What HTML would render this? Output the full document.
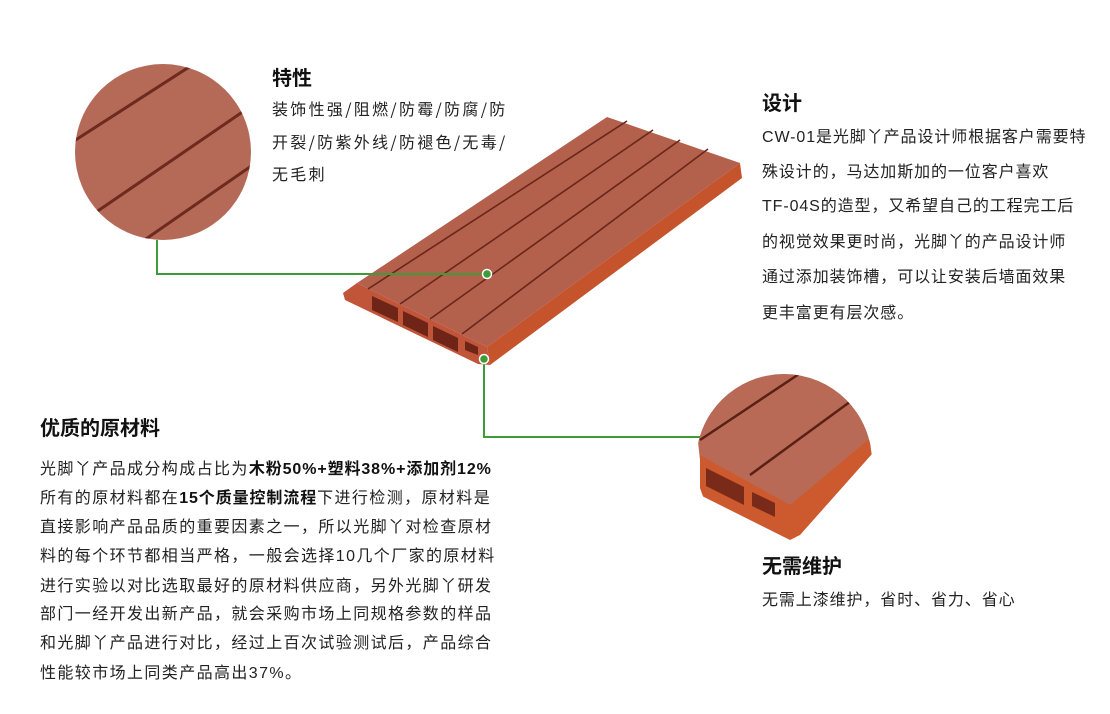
<!DOCTYPE html>
<html><head><meta charset="utf-8"><style>
body{margin:0;width:1110px;height:714px;background:#fff;position:relative;overflow:hidden;font-family:"Liberation Sans","Noto Sans CJK SC",sans-serif;color:#222}
.t{position:absolute;white-space:nowrap;font-size:16px}
.h{position:absolute;white-space:nowrap;font-size:20px;font-weight:bold;color:#111}
.l{letter-spacing:1.4px}
.r{letter-spacing:0.9px}
.s{font-family:"Noto Sans CJK SC",sans-serif;letter-spacing:2.3px}
b{font-weight:bold;color:#111}
.l b{letter-spacing:0.9px}
</style></head><body>
<svg width="1110" height="714" style="position:absolute;left:0;top:0">
<defs>
<clipPath id="c1"><circle cx="163" cy="152" r="88"/></clipPath>
<clipPath id="c2"><circle cx="784" cy="462" r="88"/></clipPath>
</defs>
<g clip-path="url(#c1)">
<rect x="70" y="60" width="190" height="190" fill="#b56a58"/>
<g stroke="#6e2a1e" stroke-width="3">
<line x1="60" y1="150" x2="200" y2="60"/>
<line x1="70" y1="230" x2="260" y2="100"/>
<line x1="130" y1="250" x2="260" y2="160"/>
</g>
</g>
<g clip-path="url(#c2)">
<polygon points="690,370 880,370 880,440 790,510 700,460" fill="#b86a56"/>
<polygon points="700,455 790,505 880,430 880,445 800,535 790,540 700,495" fill="#cd5a2e"/>
<polygon points="706,468 744,487 744,505 706,486" fill="#7a2a18"/>
<polygon points="752,492 775,503 775,517 752,506" fill="#7a2a18"/>
<g stroke="#5a2015" stroke-width="2.5">
<line x1="700" y1="440" x2="805" y2="370"/>
<line x1="750" y1="475" x2="862" y2="393"/>
</g>
</g>
<polygon points="357,283 607,117 740,163 487,347" fill="#b3604c"/>
<polygon points="740,163 742,178 490,365 487,347" fill="#c5532c"/>
<polygon points="343,293 357,283 487,347 490,365 478,364 345,300" fill="#c0553a"/>
<g fill="#6e2416">
<polygon points="372,296 398,308 398,322 372,310"/>
<polygon points="403,311 428,323 428,337 403,325"/>
<polygon points="433,326 458,338 458,352 433,340"/>
<polygon points="465,341 478,347 478,355 465,350"/>
</g>
<g stroke="#6a2619" stroke-width="1.6">
<line x1="627" y1="121" x2="368" y2="289"/>
<line x1="653" y1="130" x2="400" y2="304"/>
<line x1="680" y1="140" x2="430" y2="319"/>
<line x1="708" y1="149" x2="462" y2="334"/>
</g>
<g stroke="#3f9a3a" stroke-width="2" fill="none">
<polyline points="157,240 157,274 487,274"/>
<polyline points="484,358 484,437 700,437"/>
</g>
<circle cx="487" cy="274" r="4.5" fill="#3f9a3a" stroke="#fff" stroke-width="1.5"/>
<circle cx="484" cy="359" r="4.5" fill="#3f9a3a" stroke="#fff" stroke-width="1.5"/>
</svg>

<div class="h" style="left:272px;top:62px">特性</div>
<div class="t s" style="left:272px;top:96px">装饰性强/阻燃/防霉/防腐/防</div>
<div class="t s" style="left:272px;top:129px">开裂/防紫外线/防褪色/无毒/</div>
<div class="t s" style="left:272px;top:161px">无毛刺</div>

<div class="h" style="left:762px;top:87px">设计</div>
<div class="t r" style="left:762px;top:123px">CW-01是光脚丫产品设计师根据客户需要特</div>
<div class="t r" style="left:762px;top:158px">殊设计的，马达加斯加的一位客户喜欢</div>
<div class="t r" style="left:762px;top:192px">TF-04S的造型，又希望自己的工程完工后</div>
<div class="t r" style="left:762px;top:228px">的视觉效果更时尚，光脚丫的产品设计师</div>
<div class="t r" style="left:762px;top:263px">通过添加装饰槽，可以让安装后墙面效果</div>
<div class="t r" style="left:762px;top:299px">更丰富更有层次感。</div>

<div class="h" style="left:40px;top:412px">优质的原材料</div>
<div class="t l" style="left:40px;top:455px">光脚丫产品成分构成占比为<b>木粉50%+塑料38%+添加剂12%</b></div>
<div class="t l" style="left:40px;top:484px">所有的原材料都在<b>15个质量控制流程</b>下进行检测，原材料是</div>
<div class="t l" style="left:40px;top:513px">直接影响产品品质的重要因素之一，所以光脚丫对检查原材</div>
<div class="t l" style="left:40px;top:542px">料的每个环节都相当严格，一般会选择10几个厂家的原材料</div>
<div class="t l" style="left:40px;top:572px">进行实验以对比选取最好的原材料供应商，另外光脚丫研发</div>
<div class="t l" style="left:40px;top:600px">部门一经开发出新产品，就会采购市场上同规格参数的样品</div>
<div class="t l" style="left:40px;top:629px">和光脚丫产品进行对比，经过上百次试验测试后，产品综合</div>
<div class="t l" style="left:40px;top:659px">性能较市场上同类产品高出37%。</div>

<div class="h" style="left:762px;top:550px">无需维护</div>
<div class="t r" style="left:762px;top:586px">无需上漆维护，省时、省力、省心</div>
</body></html>
